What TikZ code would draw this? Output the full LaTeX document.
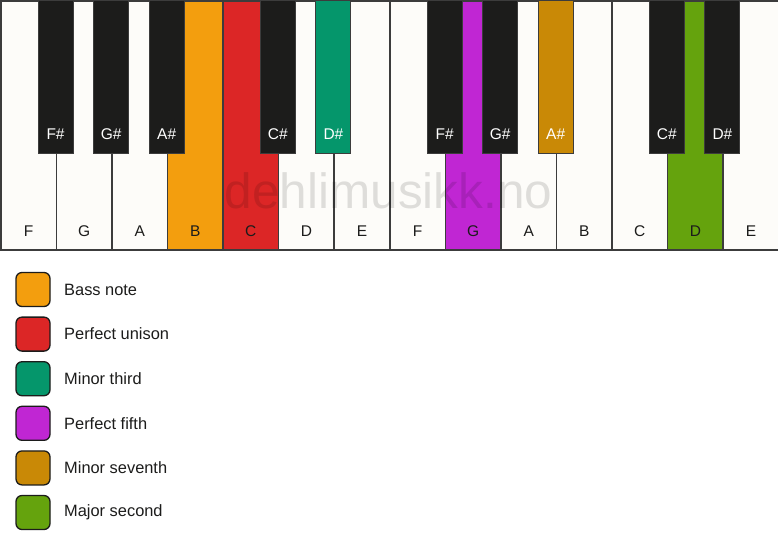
\documentclass[tikz,border=0pt]{standalone}
\usepackage{fontspec}
\setmainfont{Liberation Sans}
\definecolor{ivory}{HTML}{FDFCF9}
\definecolor{ebony}{HTML}{1C1C1B}
\definecolor{edge}{HTML}{3C3C3C}
\definecolor{cbass}{HTML}{F39E0E}
\definecolor{cunison}{HTML}{DC2626}
\definecolor{cminthird}{HTML}{05966B}
\definecolor{cfifth}{HTML}{C026D3}
\definecolor{cminsev}{HTML}{C98906}
\definecolor{cmajsec}{HTML}{65A30D}
\tikzset{
  wkey/.style={draw=edge, line width=1.5pt, rectangle, minimum width=55.571pt, minimum height=249pt, anchor=north west, inner sep=0pt},
  bkey/.style={draw=edge, line width=1pt, rectangle, minimum width=35pt, minimum height=153pt, anchor=north, inner sep=0pt},
  wlab/.style={font=\fontsize{15.5}{16}\selectfont, text=ebony, anchor=center},
  blab/.style={font=\fontsize{15.5}{16}\selectfont, text=white, anchor=center},
  legbox/.style={draw=ebony, line width=1.3pt, rounded corners=6pt, minimum width=34pt, minimum height=34pt, inner sep=0pt},
  legtext/.style={font=\fontsize{16.4}{18}\selectfont, text=ebony, anchor=west, inner sep=0pt},
}
\begin{document}
\begin{tikzpicture}[x=1pt,y=-1pt]
\useasboundingbox[fill=white] (0,0) rectangle (778,550);
% white keys
\foreach \i/\n/\c in {0/F/ivory,1/G/ivory,2/A/ivory,3/B/cbass,4/C/cunison,5/D/ivory,6/E/ivory,7/F/ivory,8/G/cfifth,9/A/ivory,10/B/ivory,11/C/ivory,12/D/cmajsec,13/E/ivory}{
  \node[wkey, fill=\c] (wk\i) at ({\i*55.571},0) {};
  \node[wlab] (wl\i) at ([yshift=19pt]wk\i.south) {\n};
}
% watermark
\node[font=\fontsize{49.5}{52}\selectfont, text=black, text opacity=0.12, anchor=base] (wm) at (388.5,208) {dehlimusikk.no};
% black keys
\foreach \i/\n/\c in {1/F\#/ebony,2/G\#/ebony,3/A\#/ebony,5/C\#/ebony,6/D\#/cminthird,8/F\#/ebony,9/G\#/ebony,10/A\#/cminsev,12/C\#/ebony,13/D\#/ebony}{
  \node[bkey, fill=\c] (bk\i) at ({\i*55.571},0) {};
  \node[blab] (bl\i) at ([yshift=20pt]bk\i.south) {\n};
}
% legend
\foreach \k/\c/\t in {0/cbass/Bass note,1/cunison/Perfect unison,2/cminthird/Minor third,3/cfifth/Perfect fifth,4/cminsev/Minor seventh,5/cmajsec/Major second}{
  \node[legbox, fill=\c] (lg\k) at (33,{289.5+\k*44.6}) {};
  \node[legtext] (lt\k) at (64,{289.5+\k*44.6}) {\t};
}
\end{tikzpicture}
\end{document}
